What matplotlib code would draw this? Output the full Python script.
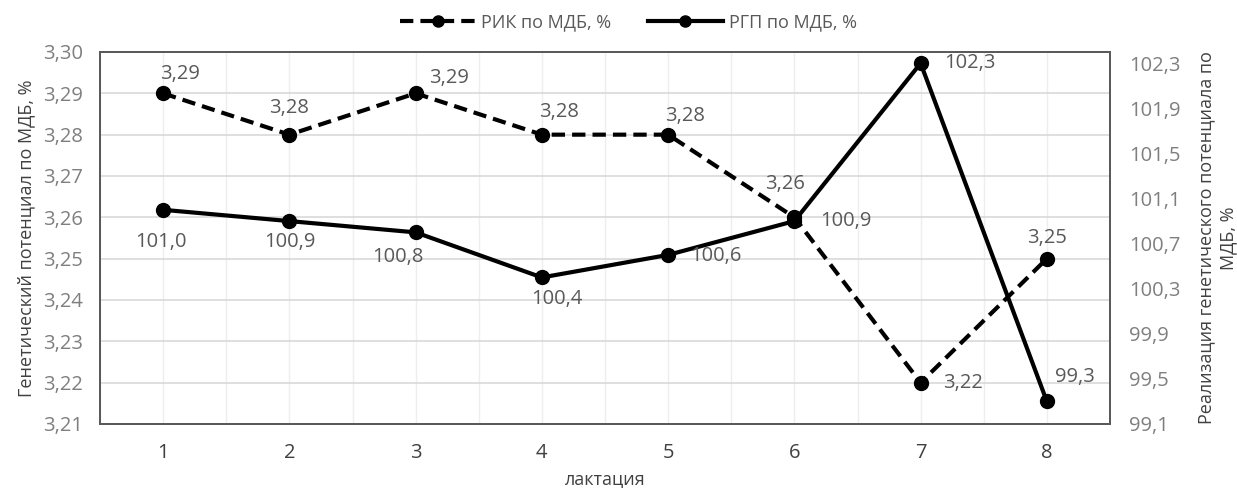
import numpy as np
import matplotlib.pyplot as plt
from matplotlib.ticker import FixedLocator

plt.rcParams['font.family'] = ['Open Sans', 'DejaVu Sans']

# данные
lact = [1, 2, 3, 4, 5, 6, 7, 8]
rik = [3.29, 3.28, 3.29, 3.28, 3.28, 3.26, 3.22, 3.25]
rgp = [101.0, 100.9, 100.8, 100.4, 100.6, 100.9, 102.3, 99.3]
left_ticks = [3.21, 3.22, 3.23, 3.24, 3.25, 3.26, 3.27, 3.28, 3.29, 3.30]
right_ticks = [99.1, 99.5, 99.9, 100.3, 100.7, 101.1, 101.5, 101.9, 102.3]

# смещения подписей (пиксели)
rik_off = [(17, 19), (0, 27), (33, 15), (17, 23), (17, 19), (-9, 33), (42, 0), (0, 21)]
rgp_off = [(-2, -32), (0, -21), (-18, -25), (15, -22), (48, -1), (51, 0), (49, 0), (28, 24)]

fig = plt.figure(figsize=(12.37, 4.88), dpi=100)
ax1 = fig.add_axes([100/1237, 64/488, 1010/1237, 372/488])
ax2 = ax1.twinx()

tick_col = '#7f7f7f'
lab_col = '#595959'

l1, = ax1.plot(lact, rik, color='black', lw=3, dashes=(3.2, 1.7), marker='o', ms=10,
               label='РИК по МДБ, %', zorder=3)
l2, = ax2.plot(lact, rgp, color='black', lw=3, marker='o', ms=10,
               label='РГП по МДБ, %', zorder=3)

ax1.set_xlim(0.5, 8.5)
ax1.set_ylim(3.21, 3.30)
ax2.set_ylim(99.1, 102.4)
ax1.set_xticks(lact)
ax1.xaxis.set_minor_locator(FixedLocator(np.arange(0.5, 9, 1)))
ax1.set_yticks(left_ticks)
ax2.set_yticks(right_ticks)
ax1.set_yticklabels([f'{v:.2f}'.replace('.', ',') for v in left_ticks])
ax2.set_yticklabels([f'{v:.1f}'.replace('.', ',') for v in right_ticks])

ax1.grid(axis='y', color='#d9d9d9', lw=1.2)
ax1.grid(axis='x', which='both', color='#eeeeee', lw=1)
ax1.set_axisbelow(True)

for ax in (ax1, ax2):
    ax.tick_params(which='both', length=0, labelsize=14.5)
    for s in ax.spines.values():
        s.set_color('#595959')
        s.set_linewidth(1.3)
ax1.tick_params(axis='y', colors=tick_col, pad=12)
ax2.tick_params(axis='y', colors=tick_col, pad=14)
ax1.tick_params(axis='x', colors='#404040', pad=14)

for x, y, (dx, dy) in zip(lact, rik, rik_off):
    ax1.annotate(f'{y:.2f}'.replace('.', ','), (x, y), xytext=(dx, dy),
                 textcoords='offset pixels', ha='center', va='center',
                 fontsize=14.5, color=lab_col)
for x, y, (dx, dy) in zip(lact, rgp, rgp_off):
    ax2.annotate(f'{y:.1f}'.replace('.', ','), (x, y), xytext=(dx, dy),
                 textcoords='offset pixels', ha='center', va='center',
                 fontsize=14.5, color=lab_col)

ax1.set_xlabel('лактация', fontsize=13, color='#404040', labelpad=5)
ax1.set_ylabel('Генетический потенциал по МДБ, %', fontsize=13, color='#404040', labelpad=6)
ax2.set_ylabel('Реализация генетического потенциала по\nМДБ, %', fontsize=13,
               color='#404040', labelpad=12, rotation=90, linespacing=1.25)

fig.legend(handles=[l1, l2], loc='center', bbox_to_anchor=(0.508, 0.955), ncol=2,
           frameon=False, fontsize=13, labelcolor='#595959', handlelength=4.2,
           columnspacing=2.0, handletextpad=0.3, markerscale=0.8)

fig.savefig('out.png', dpi=100)
